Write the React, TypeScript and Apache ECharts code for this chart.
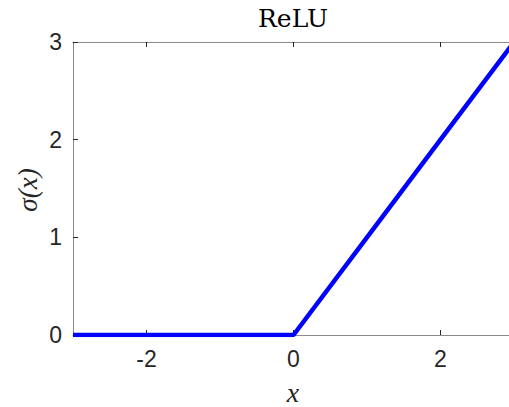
import React, { useEffect, useRef } from "react";
import * as echarts from "echarts";

const xs = [-3, -2, -1, 0, 1, 2, 3];
const ys = [0, 0, 0, 0, 1, 2, 3];
const xTicks = [-2, 0, 2];
const yTicks = [0, 1, 2, 3];
const titleText = "ReLU";
const xName = "x";
const yName = "σ(x)";

export default function App() {
  const ref = useRef<HTMLDivElement>(null);
  useEffect(() => {
    const chart = echarts.init(ref.current!, null, { renderer: "svg" });
    const axisLine = { show: true, onZero: false, lineStyle: { color: "#8a8a8a", width: 1 } };
    const tick = { show: true, inside: true, length: 5, lineStyle: { color: "#262626", width: 1 } };
    const labelFont = {
      color: "#262626",
      fontSize: 23,
      fontFamily: "Liberation Sans, Arial, sans-serif",
    };
    chart.setOption({
      animation: false,
      backgroundColor: "#ffffff",
      grid: { left: 73, top: 42, bottom: 72, right: 0, containLabel: false },
      xAxis: [
        {
          type: "value",
          min: -3,
          max: 3,
          position: "bottom",
          axisLine,
          axisTick: { ...tick, customValues: xTicks },
          axisLabel: { ...labelFont, customValues: xTicks, margin: 12 },
          splitLine: { show: false },
        },
        {
          type: "value",
          min: -3,
          max: 3,
          position: "top",
          axisLine,
          axisTick: { ...tick, customValues: xTicks },
          axisLabel: { show: false },
          splitLine: { show: false },
        },
      ],
      yAxis: [
        {
          type: "value",
          min: 0,
          max: 3,
          interval: 1,
          position: "left",
          axisLine,
          axisTick: { ...tick, customValues: yTicks },
          axisLabel: { ...labelFont, customValues: yTicks, margin: 11 },
          splitLine: { show: false },
        },
        {
          type: "value",
          min: 0,
          max: 3,
          interval: 1,
          position: "right",
          axisLine,
          axisTick: { ...tick, customValues: yTicks },
          axisLabel: { show: false },
          splitLine: { show: false },
        },
      ],
      graphic: [
        {
          type: "text",
          x: 293,
          y: 18,
          style: {
            text: titleText,
            fontSize: 25,
            fontFamily: "DejaVu Serif, serif",
            fill: "#000",
            textAlign: "center",
            textVerticalAlign: "middle",
          },
        },
        {
          type: "text",
          x: 293,
          y: 392,
          style: {
            text: xName,
            fontSize: 28,
            fontStyle: "italic",
            fontFamily: "Liberation Serif, serif",
            fill: "#262626",
            textAlign: "center",
            textVerticalAlign: "middle",
          },
        },
        {
          type: "text",
          x: 28,
          y: 190,
          rotation: Math.PI / 2,
          style: {
            text: yName,
            fontSize: 27,
            fontStyle: "italic",
            fontFamily: "Liberation Serif, serif",
            fill: "#262626",
            textAlign: "center",
            textVerticalAlign: "middle",
          },
        },
      ],
      series: [
        {
          type: "line",
          data: xs.map((x, i) => [x, ys[i]]),
          showSymbol: false,
          symbol: "none",
          lineStyle: { color: "#0000ff", width: 4.5 },
          clip: true,
        },
      ],
    });
    return () => chart.dispose();
  }, []);
  return (
    <div style={{ position: "absolute", left: 0, top: 0, width: 509, height: 407, overflow: "hidden" }}>
      <div ref={ref} style={{ width: 514, height: 407 }} />
    </div>
  );
}
